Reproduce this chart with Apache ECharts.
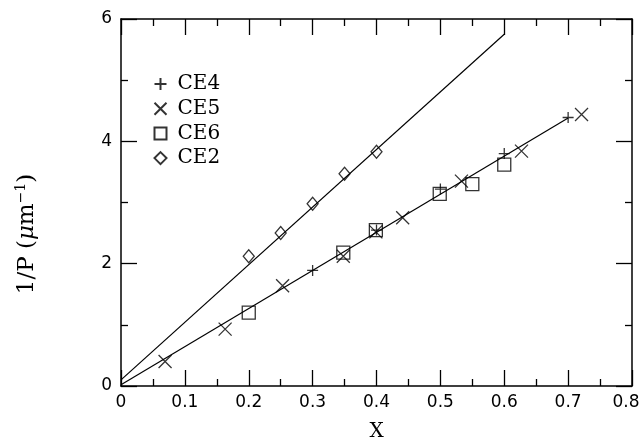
<!DOCTYPE html>
<html>
<head>
<meta charset="utf-8">
<script src="https://cdn.jsdelivr.net/npm/echarts@6/dist/echarts.min.js"></script>
<style>html,body{margin:0;padding:0;background:#fff;}#c{width:641px;height:437px;}</style>
</head>
<body>
<div id="c"></div>
<script>
// Data
var ce4X = [0.30, 0.40, 0.50, 0.60, 0.70];
var ce4Y = [1.89, 2.55, 3.22, 3.80, 4.39];
var ce5X = [0.069, 0.163, 0.253, 0.348, 0.399, 0.441, 0.533, 0.627, 0.721];
var ce5Y = [0.40, 0.93, 1.64, 2.12, 2.52, 2.75, 3.35, 3.84, 4.44];
var ce6X = [0.20, 0.348, 0.399, 0.499, 0.55, 0.60];
var ce6Y = [1.20, 2.18, 2.55, 3.14, 3.30, 3.62];
var ce2X = [0.20, 0.25, 0.30, 0.35, 0.40];
var ce2Y = [2.12, 2.50, 2.98, 3.47, 3.83];
var fitCE2X = [0, 0.60];
var fitCE2Y = [0.10, 5.75];
var fitLowX = [0, 0.70];
var fitLowY = [0.02, 4.38];
var seriesNames = ['CE4', 'CE5', 'CE6', 'CE2'];
var xTicks = {min: 0, max: 0.8, interval: 0.1};
var yTicks = {min: 0, max: 6, interval: 2};

function pairs(xs, ys) { return xs.map(function (x, i) { return [x, ys[i]]; }); }

var plusPath = 'path://M10,0 L10,20 M0,10 L20,10';
var crossPath = 'path://M0,0 L20,20 M20,0 L0,20';
var markStyle = {color: 'none', borderColor: '#000', borderWidth: 1.3};

var chart = echarts.init(document.getElementById('c'), null, {renderer: 'canvas'});
var axisCommon = {
  axisLine: {show: true, onZero: false, lineStyle: {color: '#000', width: 1.5}},
  axisTick: {show: true, inside: true, length: 16, lineStyle: {color: '#000', width: 1.3}},
  minorTick: {show: true, splitNumber: 2, length: 7, lineStyle: {color: '#000', width: 1.3}},
  splitLine: {show: false}
};
function ax(extra) { return Object.assign({}, JSON.parse(JSON.stringify(axisCommon)), extra); }

chart.setOption({
  animation: false,
  backgroundColor: '#fff',
  grid: {left: 121, right: 9, top: 19, bottom: 51, outerBoundsMode: 'none', containLabel: false},
  xAxis: [
    ax({type: 'value', position: 'bottom', min: xTicks.min, max: xTicks.max, interval: xTicks.interval,
      axisLabel: {color: '#000', fontFamily: 'DejaVu Sans', fontSize: 17, margin: 8,
        formatter: function (v) { return v === xTicks.max ? '{last|' + v + '}' : String(v); },
        rich: {last: {fontFamily: 'DejaVu Sans', fontSize: 17, color: '#000', padding: [0, 12, 0, 0]}}},
      name: 'X', nameLocation: 'middle', nameGap: 36,
      nameTextStyle: {color: '#000', fontFamily: 'DejaVu Serif', fontSize: 20}}),
    ax({type: 'value', position: 'top', min: xTicks.min, max: xTicks.max, interval: xTicks.interval,
      axisLabel: {show: false}})
  ],
  yAxis: [
    ax({type: 'value', position: 'left', min: yTicks.min, max: yTicks.max, interval: yTicks.interval,
      axisLabel: {color: '#000', fontFamily: 'DejaVu Sans', fontSize: 17, margin: 9}}),
    ax({type: 'value', position: 'right', min: yTicks.min, max: yTicks.max, interval: yTicks.interval,
      axisLabel: {show: false}})
  ],
  legend: {
    orient: 'vertical', left: 147, top: 69, itemWidth: 12, itemHeight: 12, itemGap: 4.7,
    textStyle: {color: '#000', fontFamily: 'DejaVu Serif', fontSize: 20, lineHeight: 20, padding: [0, 0, 0, 6]},
    data: seriesNames
  },
  graphic: [{
    type: 'text', x: 27, y: 234, rotation: Math.PI / 2,
    style: {
      text: '1/P ({mu|μ}m{sup|−1})',
      rich: {
        mu: {fontFamily: 'DejaVu Serif', fontStyle: 'italic', fontSize: 23, fill: '#000'},
        sup: {fontFamily: 'DejaVu Serif', fontSize: 14, fill: '#000', padding: [0, 0, 11, 0]}
      },
      fontFamily: 'DejaVu Serif', fontSize: 23, fill: '#000',
      align: 'center', verticalAlign: 'middle'
    }
  }],
  series: [
    {name: 'fitCE2', type: 'line', data: pairs(fitCE2X, fitCE2Y), symbol: 'none',
      lineStyle: {color: '#000', width: 1.2}, silent: true},
    {name: 'fitLow', type: 'line', data: pairs(fitLowX, fitLowY), symbol: 'none',
      lineStyle: {color: '#000', width: 1.2}, silent: true},
    {name: 'CE4', type: 'scatter', data: pairs(ce4X, ce4Y), symbol: plusPath, symbolSize: 11,
      itemStyle: markStyle},
    {name: 'CE5', type: 'scatter', data: pairs(ce5X, ce5Y), symbol: crossPath, symbolSize: 13,
      itemStyle: markStyle},
    {name: 'CE6', type: 'scatter', data: pairs(ce6X, ce6Y), symbol: 'rect', symbolSize: 13,
      itemStyle: markStyle},
    {name: 'CE2', type: 'scatter', data: pairs(ce2X, ce2Y), symbol: 'diamond', symbolSize: [11, 13],
      itemStyle: markStyle}
  ]
});
</script>
</body>
</html>
